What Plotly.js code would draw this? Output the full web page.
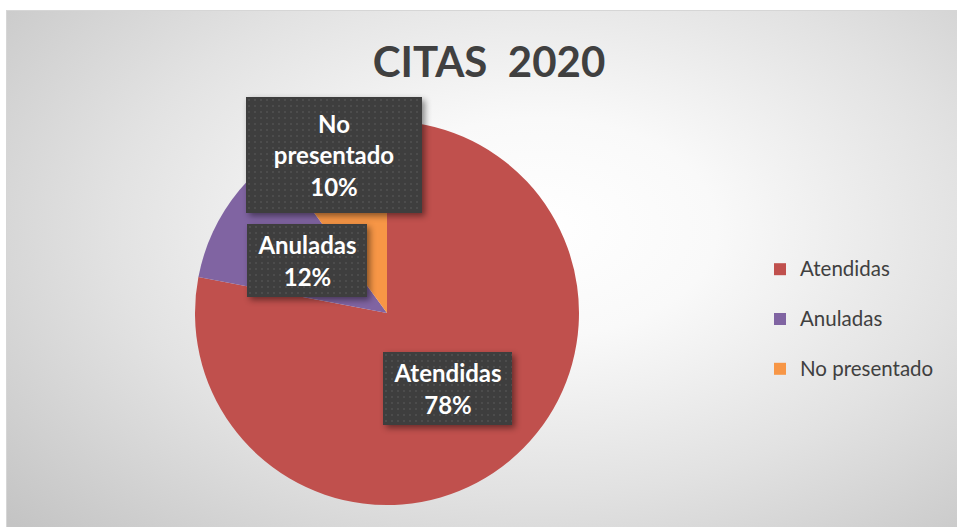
<!DOCTYPE html>
<html>
<head>
<meta charset="utf-8">
<script src="https://cdn.plot.ly/plotly-3.0.1.min.js"></script>
<style>
html,body{margin:0;padding:0;background:#ffffff;}
#bg{position:absolute;left:6px;top:10px;width:951px;height:517px;
 background:radial-gradient(ellipse 75% 85% at 56% 42%, #ffffff 0%, #f9f9f9 25%, #e2e2e2 60%, #c4c4c4 100%);
 border-top:1px solid #d6d6d6;border-left:1px solid #d6d6d6;box-sizing:border-box;}
#chart{position:absolute;left:0;top:0;width:957px;height:527px;}
.annotation rect.bg{filter:drop-shadow(3px 3px 3px rgba(0,0,0,0.45));}
</style>
</head>
<body>
<div id="bg"></div>
<div id="chart"></div>
<script>
var categories = ["Atendidas", "Anuladas", "No presentado"];
var values = [78, 12, 10];
var colors = ["#C0504D", "#8064A2", "#F79646"];
var boxText = ["Atendidas", "Anuladas", "No<br>presentado"];
var chartTitle = "CITAS  2020";

var total = values.reduce(function(a,b){return a+b;},0);
var pct = values.map(function(v){return Math.round(v/total*100)+"%";});

// label box placement (paper fractions)
var boxPos = [
  {x:447.5/957, y:1-388.5/527, w:129, h:73},
  {x:307/957, y:1-260.5/527, w:120, h:73},
  {x:334/957, y:1-155/527, w:176, h:116}
];

var annotations = categories.map(function(c,i){
  return {
    xref:"paper", yref:"paper", x:boxPos[i].x, y:boxPos[i].y,
    xanchor:"center", yanchor:"middle", showarrow:false,
    text: boxText[i]+"<br>"+pct[i],
    font:{family:"Lato, 'Open Sans', sans-serif", size:24, color:"#ffffff", weight:"bold"},
    bgcolor:"#404040", borderpad:0, borderwidth:0,
    width:boxPos[i].w, height:boxPos[i].h, align:"center"
  };
});

var data = [{
  type:"pie",
  labels: categories.map(function(c){return '<span style="font-size:20.5px">'+c+"</span><br> ";}),
  values: values,
  marker:{colors:colors, line:{width:0}},
  sort:false, direction:"clockwise", rotation:0,
  textinfo:"none", hoverinfo:"percent",
  domain:{x:[195/957, 579/957], y:[22/527, 406/527]}
}];

var layout = {
  width:957, height:527,
  margin:{l:0,r:0,t:0,b:0},
  paper_bgcolor:"rgba(0,0,0,0)", plot_bgcolor:"rgba(0,0,0,0)",
  title:{text:chartTitle, x:489/957, xanchor:"center", y:1-62/527, yanchor:"middle",
    font:{family:"Lato, 'Open Sans', sans-serif", size:42, color:"#404040", weight:"bold"}},
  showlegend:true,
  legend:{x:760/957, xanchor:"left", y:1-251/527, yanchor:"top", valign:"top",
    font:{family:"Lato, 'Open Sans', sans-serif", size:18, color:"#404040"},
    bgcolor:"rgba(0,0,0,0)"},
  annotations:annotations
};

Plotly.newPlot("chart", data, layout, {displayModeBar:false, staticPlot:true}).then(function(gd){
  var svg = gd.querySelector("svg.main-svg");
  var ns = "http://www.w3.org/2000/svg";
  var defs = svg.querySelector("defs") || svg.insertBefore(document.createElementNS(ns,"defs"), svg.firstChild);
  var pat = document.createElementNS(ns,"pattern");
  pat.setAttribute("id","dotpat"); pat.setAttribute("width","6"); pat.setAttribute("height","6");
  pat.setAttribute("patternUnits","userSpaceOnUse");
  var r1 = document.createElementNS(ns,"rect");
  r1.setAttribute("width","6"); r1.setAttribute("height","6"); r1.setAttribute("fill","#3e3e3e");
  var r2 = document.createElementNS(ns,"rect");
  r2.setAttribute("x","2"); r2.setAttribute("y","2"); r2.setAttribute("width","2"); r2.setAttribute("height","2"); r2.setAttribute("fill","#4c4c4c");
  pat.appendChild(r1); pat.appendChild(r2); defs.appendChild(pat);
  gd.querySelectorAll(".annotation rect.bg").forEach(function(r){ r.style.fill = "url(#dotpat)"; });
});
</script>
</body>
</html>
